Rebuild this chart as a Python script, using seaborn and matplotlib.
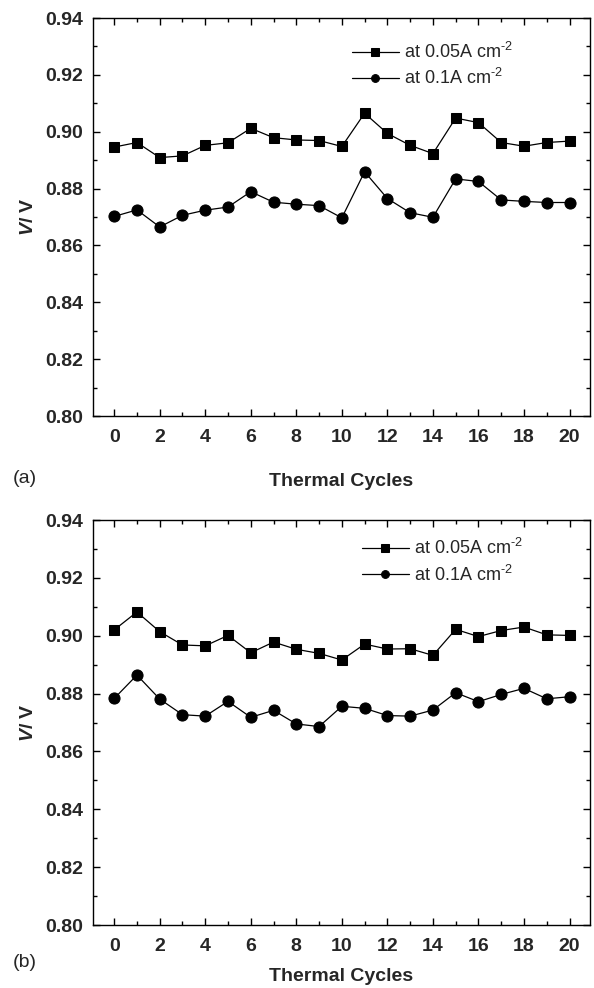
import matplotlib
matplotlib.use("Agg")
import matplotlib.pyplot as plt
import seaborn as sns
import pandas as pd
from matplotlib.ticker import MultipleLocator

cycles = list(range(21))

# Panel (a)
a_005 = [0.8946, 0.8962, 0.8909, 0.8915, 0.8952, 0.8961, 0.9012, 0.8979, 0.8971, 0.8969, 0.8948,
         0.9065, 0.8994, 0.8952, 0.8923, 0.9048, 0.9032, 0.8962, 0.8949, 0.8962, 0.8967]
a_01 = [0.8702, 0.8725, 0.8665, 0.8706, 0.8724, 0.8735, 0.8789, 0.8752, 0.8745, 0.8740, 0.8697,
        0.8859, 0.8765, 0.8715, 0.8699, 0.8834, 0.8825, 0.8760, 0.8755, 0.8751, 0.8751]

# Panel (b)
b_005 = [0.9020, 0.9082, 0.9014, 0.8968, 0.8965, 0.9001, 0.8941, 0.8978, 0.8953, 0.8939, 0.8916,
         0.8971, 0.8954, 0.8955, 0.8932, 0.9022, 0.8997, 0.9018, 0.9030, 0.9003, 0.9001]
b_01 = [0.8783, 0.8864, 0.8781, 0.8727, 0.8722, 0.8773, 0.8718, 0.8742, 0.8695, 0.8686, 0.8756,
        0.8749, 0.8724, 0.8722, 0.8743, 0.8803, 0.8772, 0.8797, 0.8818, 0.8782, 0.8789]

series_labels = ["at 0.05A cm$^{\\text{-}2}$", "at 0.1A cm$^{\\text{-}2}$"]
panel_tags = ["(a)", "(b)"]
xticks = list(range(0, 21, 2))
yticks = [0.80, 0.82, 0.84, 0.86, 0.88, 0.90, 0.92, 0.94]

sns.set_style("ticks")
plt.rcParams["font.family"] = ["Liberation Sans", "DejaVu Sans"]
plt.rcParams["mathtext.fontset"] = "custom"
plt.rcParams["mathtext.rm"] = "Liberation Sans"
plt.rcParams["mathtext.it"] = "Liberation Sans:italic:bold"
plt.rcParams["mathtext.bf"] = "Liberation Sans:bold"

W, H = 594, 988
fig = plt.figure(figsize=(W / 100, H / 100), dpi=100)

def frac_box(left, top, right, bottom):
    return [left / W, 1 - bottom / H, (right - left) / W, (bottom - top) / H]

axes_boxes = [frac_box(93, 18, 590, 416), frac_box(93, 520, 590, 925)]
data = [(a_005, a_01), (b_005, b_01)]
legend_anchor = [(0.521, 0.94), (0.541, 0.955)]
tag_y = [478, 962]
xlabel_pad = [20, 10]
xtick_pad = [9, 9]

for i, (box, (s1, s2)) in enumerate(zip(axes_boxes, data)):
    ax = fig.add_axes(box)
    df = pd.DataFrame({"cycle": cycles + cycles,
                       "V": s1 + s2,
                       "series": [series_labels[0]] * 21 + [series_labels[1]] * 21})
    sns.lineplot(data=df[df.series == series_labels[0]], x="cycle", y="V", ax=ax,
                 color="black", marker="s", markersize=7.5, linewidth=0.9,
                 markeredgecolor="black", label=series_labels[0])
    sns.lineplot(data=df[df.series == series_labels[1]], x="cycle", y="V", ax=ax,
                 color="black", marker="o", markersize=8, linewidth=0.9,
                 markeredgecolor="black", label=series_labels[1])
    ax.set_xlim(-0.93, 20.9)
    ax.set_ylim(0.80, 0.94)
    ax.set_xticks(xticks)
    ax.set_yticks(yticks)
    ax.set_yticklabels([f"{v:.2f}" for v in yticks])
    ax.xaxis.set_minor_locator(MultipleLocator(1))
    ax.yaxis.set_minor_locator(MultipleLocator(0.01))
    ax.tick_params(which="both", direction="in", top=True, right=True, width=1, color="black")
    ax.tick_params(which="major", length=5, labelsize=14)
    ax.tick_params(which="minor", length=3)
    ax.tick_params(axis="x", which="major", pad=xtick_pad[i])
    ax.tick_params(axis="y", which="major", pad=7)
    for lab in ax.get_xticklabels() + ax.get_yticklabels():
        lab.set_fontweight("bold")
    for sp in ax.spines.values():
        sp.set_linewidth(1.0)
        sp.set_color("black")
    ax.set_xlabel("Thermal Cycles", fontsize=14, fontweight="bold", labelpad=xlabel_pad[i])
    ax.set_ylabel("$V$/ V", fontsize=14, fontweight="bold", labelpad=6)
    leg = ax.legend(loc="upper left", bbox_to_anchor=legend_anchor[i], frameon=False,
                    fontsize=13, handlelength=2.6, handletextpad=0.3, borderpad=0,
                    borderaxespad=0, labelspacing=0.35, markerscale=0.7)
    fig.text(25 / W, 1 - tag_y[i] / H, panel_tags[i], fontsize=14, ha="center", va="center")

fig.savefig("out.png", dpi=100)
